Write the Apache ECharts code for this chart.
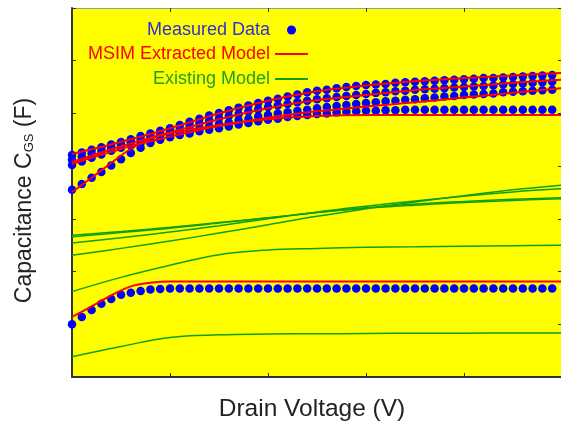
<!DOCTYPE html>
<html>
<head>
<meta charset="utf-8">
<script src="https://cdn.jsdelivr.net/npm/echarts@6/dist/echarts.min.js"></script>
<style>
  html, body { margin: 0; padding: 0; background: #fff; }
  #chart { width: 561px; height: 421px; }
</style>
</head>
<body>
<div id="chart"></div>
<script>
// measured points, x step 0.1
var dotX = [0, 0.1, 0.2, 0.3, 0.4, 0.5, 0.6, 0.7, 0.8, 0.9, 1, 1.1, 1.2, 1.3, 1.4, 1.5, 1.6, 1.7, 1.8, 1.9,
  2, 2.1, 2.2, 2.3, 2.4, 2.5, 2.6, 2.7, 2.8, 2.9, 3, 3.1, 3.2, 3.3, 3.4, 3.5, 3.6, 3.7, 3.8, 3.9,
  4, 4.1, 4.2, 4.3, 4.4, 4.5, 4.6, 4.7, 4.8, 4.9];
var meas1 = [4.21, 4.26, 4.31, 4.36, 4.41, 4.46, 4.51, 4.57, 4.62, 4.67, 4.72, 4.78, 4.84, 4.90, 4.96, 5.01, 5.06, 5.11, 5.15, 5.20,
  5.24, 5.28, 5.32, 5.36, 5.40, 5.43, 5.45, 5.48, 5.50, 5.52, 5.54, 5.55, 5.56, 5.58, 5.59, 5.60, 5.61, 5.62, 5.63, 5.64,
  5.65, 5.66, 5.67, 5.67, 5.68, 5.69, 5.70, 5.71, 5.72, 5.73];
var meas2 = [4.12, 4.18, 4.24, 4.29, 4.35, 4.40, 4.45, 4.50, 4.55, 4.60, 4.65, 4.70, 4.76, 4.81, 4.86, 4.91, 4.95, 4.99, 5.04, 5.08,
  5.12, 5.15, 5.18, 5.21, 5.24, 5.27, 5.29, 5.31, 5.33, 5.35, 5.37, 5.39, 5.40, 5.42, 5.43, 5.45, 5.46, 5.47, 5.48, 5.49,
  5.50, 5.51, 5.52, 5.53, 5.55, 5.56, 5.57, 5.58, 5.59, 5.60];
var meas3 = [4.02, 4.09, 4.16, 4.22, 4.29, 4.35, 4.39, 4.44, 4.48, 4.53, 4.57, 4.62, 4.66, 4.71, 4.75, 4.80, 4.83, 4.87, 4.90, 4.94,
  4.97, 5.00, 5.02, 5.05, 5.07, 5.10, 5.12, 5.14, 5.16, 5.18, 5.20, 5.21, 5.23, 5.24, 5.26, 5.27, 5.29, 5.30, 5.32, 5.33,
  5.35, 5.36, 5.37, 5.38, 5.40, 5.41, 5.42, 5.43, 5.44, 5.45];
var meas4 = [3.55, 3.66, 3.78, 3.89, 4.01, 4.13, 4.25, 4.35, 4.44, 4.50, 4.55, 4.59, 4.62, 4.66, 4.69, 4.72, 4.75, 4.79, 4.82, 4.85,
  4.88, 4.90, 4.93, 4.95, 4.97, 4.99, 5.00, 5.02, 5.03, 5.04, 5.05, 5.05, 5.06, 5.06, 5.07, 5.07, 5.07, 5.07, 5.07, 5.07,
  5.07, 5.07, 5.07, 5.07, 5.07, 5.07, 5.07, 5.07, 5.07, 5.07];
var meas5 = [1.00, 1.14, 1.27, 1.39, 1.48, 1.56, 1.60, 1.63, 1.66, 1.67, 1.68, 1.68, 1.68, 1.68, 1.68, 1.68, 1.68, 1.68, 1.68, 1.68,
  1.68, 1.68, 1.68, 1.68, 1.68, 1.68, 1.68, 1.68, 1.68, 1.68, 1.68, 1.68, 1.68, 1.68, 1.68, 1.68, 1.68, 1.68, 1.68, 1.68,
  1.68, 1.68, 1.68, 1.68, 1.68, 1.68, 1.68, 1.68, 1.68, 1.68];

// MSIM extracted model
var msimX = [0, 0.2, 0.4, 0.6, 0.8, 1, 1.5, 2, 2.5, 3, 3.5, 4, 4.5, 5];
var msim1 = [4.23, 4.32, 4.41, 4.51, 4.61, 4.72, 5.00, 5.24, 5.42, 5.53, 5.61, 5.67, 5.72, 5.77];
var msim2 = [4.08, 4.20, 4.32, 4.43, 4.54, 4.64, 4.89, 5.10, 5.25, 5.35, 5.44, 5.51, 5.58, 5.64];
var msim3 = [4.04, 4.16, 4.27, 4.38, 4.47, 4.56, 4.76, 4.92, 5.04, 5.13, 5.21, 5.30, 5.39, 5.48];
var msim4 = [3.51, 3.78, 4.06, 4.33, 4.52, 4.62, 4.78, 4.89, 4.95, 4.97, 4.97, 4.97, 4.97, 4.97];
var msim5 = [1.14, 1.34, 1.55, 1.72, 1.79, 1.81, 1.81, 1.81, 1.81, 1.81, 1.81, 1.81, 1.81, 1.81];

// existing model
var oldX = [0, 0.5, 1, 1.5, 2, 2.5, 3, 3.5, 4, 4.5, 5];
var old1 = [2.69, 2.76, 2.84, 2.93, 3.02, 3.12, 3.20, 3.26, 3.31, 3.35, 3.38];
var old2 = [2.66, 2.74, 2.82, 2.92, 3.02, 3.12, 3.21, 3.28, 3.33, 3.37, 3.40];
var old3 = [2.54, 2.64, 2.75, 2.87, 3.00, 3.13, 3.24, 3.34, 3.43, 3.51, 3.57];
var old4 = [2.31, 2.44, 2.58, 2.73, 2.89, 3.05, 3.19, 3.32, 3.44, 3.55, 3.64];
var old5 = [1.62, 1.89, 2.12, 2.32, 2.41, 2.44, 2.46, 2.47, 2.48, 2.49, 2.50];
var old6 = [0.385, 0.58, 0.75, 0.80, 0.815, 0.82, 0.825, 0.83, 0.83, 0.835, 0.835];

function pairs(xs, ys) {
  return xs.map(function (x, i) { return [x, ys[i]]; });
}

var FONT = 'Liberation Sans, Arial, sans-serif';
var series = [];

[old1, old2, old3, old4, old5, old6].forEach(function (ys) {
  series.push({
    name: 'Existing Model', type: 'line', data: pairs(oldX, ys),
    showSymbol: false, smooth: 0.4,
    lineStyle: { color: '#10a010', width: 1.5 }, itemStyle: { color: '#10a010' }
  });
});
[meas1, meas2, meas3, meas4, meas5].forEach(function (ys) {
  series.push({
    name: 'Measured Data', type: 'scatter', data: pairs(dotX, ys),
    symbolSize: 8.5, itemStyle: { color: '#0000ff', opacity: 1 }
  });
});
[msim1, msim2, msim3, msim4, msim5].forEach(function (ys) {
  series.push({
    name: 'MSIM Extracted Model', type: 'line', data: pairs(msimX, ys),
    showSymbol: false, smooth: 0.4,
    lineStyle: { color: '#ff0000', width: 2 }, itemStyle: { color: '#ff0000' }
  });
});

function legendItem(name, right, top, icon, h, color) {
  return {
    data: [name], orient: 'vertical', right: right, top: top, padding: 0,
    align: 'right', icon: icon, itemWidth: 33, itemHeight: h,
    selectedMode: false,
    textStyle: { fontFamily: FONT, fontSize: 18, color: color, lineHeight: 20 }
  };
}

function frameAxis(pos, max, color, width) {
  return {
    type: 'value', min: 0, max: max, interval: 1, position: pos,
    axisLine: { show: true, onZero: false, lineStyle: { color: color, width: width } },
    axisTick: { show: true, inside: true, length: 4, lineStyle: { color: '#333' } },
    axisLabel: { show: false }, splitLine: { show: false }
  };
}

var xBottom = frameAxis('bottom', 5, '#333', 2);
xBottom.name = 'Drain Voltage (V)';
xBottom.nameLocation = 'middle';
xBottom.nameGap = 20;
xBottom.nameTextStyle = { fontFamily: FONT, fontSize: 24.5, color: '#222', padding: [0, 10, 0, 0] };

var yLeft = frameAxis('left', 7, '#333', 2);
yLeft.name = 'Capacitance C{sub|GS} (F)';
yLeft.nameLocation = 'middle';
yLeft.nameGap = 36;
yLeft.nameTextStyle = {
  fontFamily: FONT, fontSize: 23, color: '#222', padding: [0, 16, 0, 0],
  rich: { sub: { fontFamily: FONT, fontSize: 13, color: '#222', verticalAlign: 'bottom', padding: [10, 0, 0, 0] } }
};

var chart = echarts.init(document.getElementById('chart'));
chart.setOption({
  animation: false,
  backgroundColor: '#ffffff',
  grid: {
    left: 72, top: 8, width: 490, height: 369, outerBoundsMode: 'none', containLabel: false,
    show: true, backgroundColor: '#ffff00', borderWidth: 0
  },
  legend: [
    legendItem('Measured Data', 265, 20, 'circle', 9, '#3030d0'),
    legendItem('MSIM Extracted Model', 253, 44, 'rect', 2, '#ff0000'),
    legendItem('Existing Model', 253, 69, 'rect', 2, '#20a020')
  ],
  xAxis: [xBottom, frameAxis('top', 5, '#999', 1)],
  yAxis: [yLeft, frameAxis('right', 7, '#333', 1)],
  series: series
});
</script>
</body>
</html>
